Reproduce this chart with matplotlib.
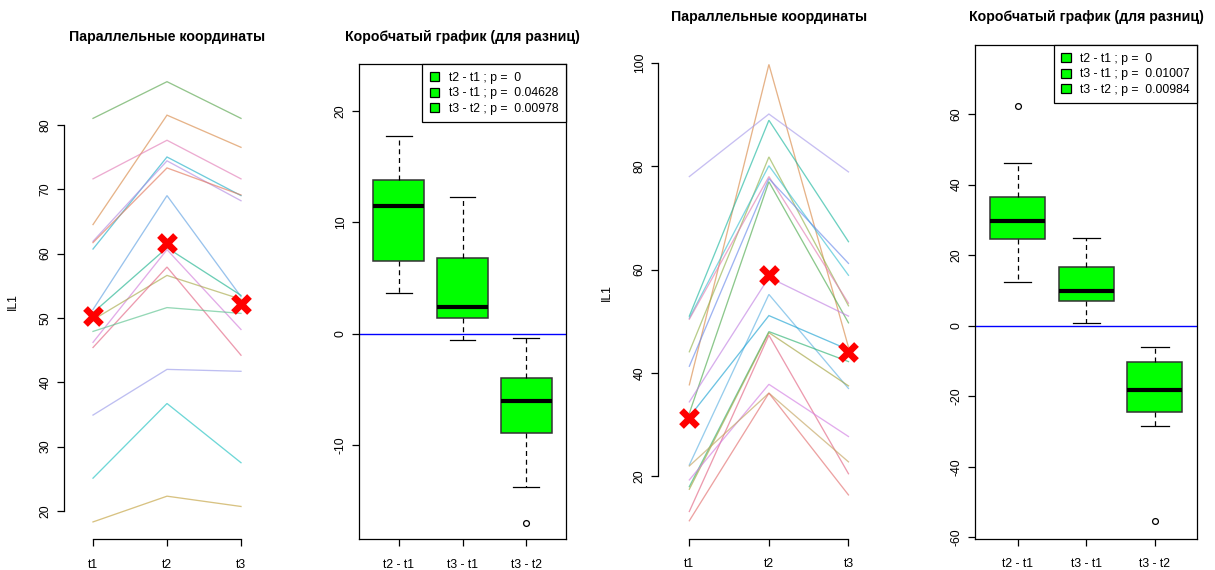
import matplotlib
matplotlib.use("Agg")
import matplotlib.pyplot as plt
from matplotlib.patches import Patch

# ---------------- data ----------------
time_labels = ["t1", "t2", "t3"]
diff_labels = ["t2 - t1", "t3 - t1", "t3 - t2"]

# left pair: parallel coordinates (IL1 at t1, t2, t3 per subject)
p1_t1 = [81.0, 64.5, 71.6, 60.7, 61.9, 61.7, 51.3, 50.8, 46.2, 49.7, 45.4, 47.9, 34.9, 25.1, 18.3]
p1_t2 = [86.7, 81.5, 77.6, 75.0, 74.4, 73.3, 69.0, 60.9, 60.6, 56.6, 57.9, 51.6, 42.0, 36.7, 22.3]
p1_t3 = [81.0, 76.5, 71.6, 69.0, 68.2, 69.1, 53.3, 53.5, 48.2, 52.9, 44.2, 50.7, 41.7, 27.5, 20.7]
p1_marks = [50.25, 61.7, 52.2]

# left pair: boxplot of differences
b1_med = [11.47, 2.39, -6.03]
b1_q1 = [6.53, 1.40, -8.97]
b1_q3 = [13.81, 6.77, -4.02]
b1_lo = [3.65, -0.54, -13.82]
b1_hi = [17.77, 12.28, -0.36]
b1_fliers = [[], [], [-17.0]]
b1_p = ["0", "0.04628", "0.00978"]

# right pair: parallel coordinates
p3_t1 = [37.7, 78.0, 51.0, 44.1, 50.6, 50.4, 41.3, 32.2, 34.4, 22.2, 31.5, 18.0, 17.5, 13.2, 19.3, 22.0, 11.4]
p3_t2 = [99.7, 90.1, 88.9, 81.8, 80.1, 78.0, 77.6, 77.0, 58.5, 55.2, 51.1, 48.0, 47.8, 47.3, 37.8, 36.1, 36.1]
p3_t3 = [45.0, 78.9, 65.4, 53.0, 58.9, 53.5, 61.2, 49.7, 51.0, 37.0, 44.5, 42.2, 37.5, 20.5, 27.7, 22.8, 16.4]
p3_marks = [31.2, 58.9, 44.1]

# right pair: boxplot of differences
b2_med = [29.7, 9.9, -18.2]
b2_q1 = [24.6, 7.0, -24.6]
b2_q3 = [36.6, 16.5, -10.2]
b2_lo = [12.3, 0.85, -28.5]
b2_hi = [46.2, 24.9, -5.96]
b2_fliers = [[62.4], [], [-55.4]]
b2_p = ["0", "0.01007", "0.00984"]

# ---------------- styles ----------------
p1_colors = ["#5aa64f", "#d98b4a", "#e37fb8", "#22b0c9", "#b48ce3", "#e2785c", "#63a3e3",
             "#1fb38f", "#d37fdb", "#a9aa4c", "#e36584", "#5cc38f", "#9b9cea", "#22c2c2", "#c3a23f"]
p3_colors = ["#d98b4a", "#a99ceb", "#1fb8a0", "#93b24c", "#3ec1d3", "#e37fb3", "#6b8ceb",
             "#4fab4f", "#c283e3", "#60b2e3", "#1fa3d3", "#2fb374", "#a3a33f", "#e36584",
             "#d37fe3", "#c3a35f", "#e37070"]

FS = 8.8
TFS = 10.2
plt.rcParams["font.family"] = ["Liberation Sans", "DejaVu Sans"]
plt.rcParams["font.size"] = FS

W, H = 1215, 570
fig = plt.figure(figsize=(W / 100, H / 100), dpi=100)


def add_ax(left, right, top, bottom):
    return fig.add_axes([left / W, 1 - bottom / H, (right - left) / W, (bottom - top) / H])


def style_ticks(ax):
    ax.tick_params(axis="both", direction="out", length=5, width=0.9, color="black",
                   labelsize=FS, labelcolor="black")
    ax.tick_params(axis="y", labelrotation=90, pad=4)
    ax.tick_params(axis="x", pad=9)
    for lab in ax.get_yticklabels():
        lab.set_va("center")


def parcoord(ax, t1, t2, t3, colors, marks, ylim, xlim, yticks, title, title_y):
    xs = [1, 2, 3]
    for a, b, c, col in zip(t1, t2, t3, colors):
        ax.plot(xs, [a, b, c], color=col, lw=0.95, alpha=0.65, solid_joinstyle="miter")
    ax.plot(xs, marks, linestyle="none", marker="x", color="red", markersize=12, mew=4.8)
    ax.set_xlim(*xlim)
    ax.set_ylim(*ylim)
    ax.set_xticks(xs)
    ax.set_xticklabels(time_labels)
    ax.set_yticks(yticks)
    for s in ("top", "right"):
        ax.spines[s].set_visible(False)
    ax.spines["left"].set_bounds(yticks[0], yticks[-1])
    ax.spines["bottom"].set_bounds(1, 3)
    ax.spines["left"].set_linewidth(0.9)
    ax.spines["bottom"].set_linewidth(0.9)
    ax.set_ylabel("IL1", fontsize=FS, labelpad=15)
    style_ticks(ax)
    fig.text((ax.get_position().x0 + ax.get_position().x1) / 2, 1 - title_y / H, title,
             ha="center", va="center", fontsize=TFS, fontweight="bold")


def diffbox(ax, med, q1, q3, lo, hi, fliers, pvals, ylim, yticks, title, title_y):
    stats = []
    for i in range(len(med)):
        stats.append(dict(med=med[i], q1=q1[i], q3=q3[i], whislo=lo[i], whishi=hi[i],
                          fliers=fliers[i], label=diff_labels[i]))
    ax.axhline(0, color="#0000ff", lw=1.0, zorder=1)
    ax.bxp(stats, positions=[1, 2, 3], widths=0.8, patch_artist=True, showfliers=True,
           boxprops=dict(facecolor="#00ff00", edgecolor="#333333", linewidth=1.1),
           medianprops=dict(color="black", linewidth=3.0, solid_capstyle="butt"),
           whiskerprops=dict(color="black", linewidth=0.9, linestyle=(0, (4, 3))),
           capprops=dict(color="black", linewidth=0.9),
           capwidths=0.4,
           flierprops=dict(marker="o", markersize=4.2, markerfacecolor="none",
                           markeredgecolor="black", markeredgewidth=0.9))
    ax.set_xlim(0.38, 3.62)
    ax.set_ylim(*ylim)
    ax.set_yticks(yticks)
    ax.set_yticklabels([str(v) for v in yticks])
    ax.set_xticks([1, 2, 3])
    ax.set_xticklabels(diff_labels)
    for s in ax.spines.values():
        s.set_linewidth(0.9)
        s.set_color("black")
    style_ticks(ax)
    handles = [Patch(facecolor="#00ff00", edgecolor="black", linewidth=0.9) for _ in pvals]
    labels = [f"{d} ; p =  {p}" for d, p in zip(diff_labels, pvals)]
    leg = ax.legend(handles, labels, loc="upper right", borderaxespad=0, fancybox=False,
                    framealpha=1, edgecolor="black", fontsize=FS, handlelength=0.75,
                    handleheight=0.75, handletextpad=0.8, labelspacing=0.3, borderpad=0.6)
    leg.get_frame().set_linewidth(0.9)
    fig.text((ax.get_position().x0 + ax.get_position().x1) / 2, 1 - title_y / H, title,
             ha="center", va="center", fontsize=TFS, fontweight="bold")


ax1 = add_ax(64, 270, 64.3, 539.3)
ax2 = add_ax(359.3, 565.7, 64.3, 539.3)
ax3 = add_ax(658.3, 880.3, 45.3, 539.0)
ax4 = add_ax(975.3, 1197.3, 45.3, 539.0)

parcoord(ax1, p1_t1, p1_t2, p1_t3, p1_colors, p1_marks, (15.6, 89.4), (0.608, 3.392),
         [20, 30, 40, 50, 60, 70, 80], "Параллельные координаты", 37)
diffbox(ax2, b1_med, b1_q1, b1_q3, b1_lo, b1_hi, b1_fliers, b1_p, (-18.5, 24.2),
        [-10, 0, 10, 20], "Коробчатый график (для разниц)", 37)
parcoord(ax3, p3_t1, p3_t2, p3_t3, p3_colors, p3_marks, (7.87, 103.4), (0.61, 3.40),
         [20, 40, 60, 80, 100], "Параллельные координаты", 17)
diffbox(ax4, b2_med, b2_q1, b2_q3, b2_lo, b2_hi, b2_fliers, b2_p, (-60.5, 79.5),
        [-60, -40, -20, 0, 20, 40, 60], "Коробчатый график (для разниц)", 17)

fig.savefig("out.png", dpi=100)
